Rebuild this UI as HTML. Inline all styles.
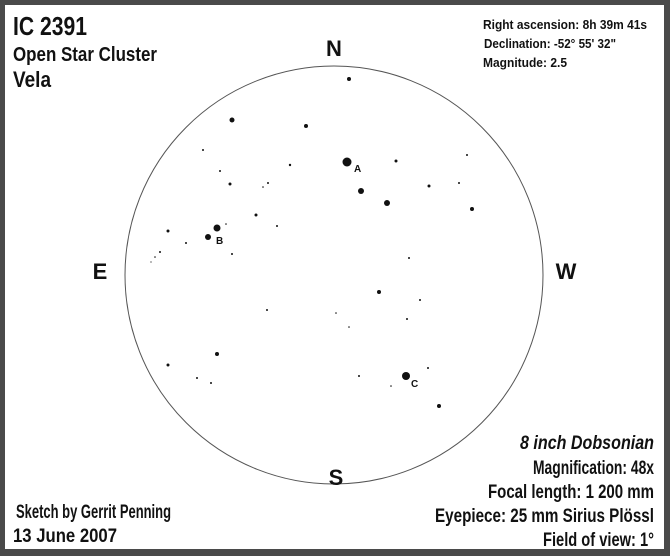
<!DOCTYPE html>
<html><head><meta charset="utf-8"><style>
html,body{margin:0;padding:0;background:#555;}
svg{display:block}
text{font-family:"Liberation Sans Narrow","Liberation Sans",sans-serif;font-weight:bold;fill:#111}
</style></head><body>
<svg width="670" height="556" viewBox="0 0 670 556" xmlns="http://www.w3.org/2000/svg">
<rect x="0" y="0" width="670" height="556" fill="#4a4a4a"/>
<rect x="5" y="5" width="659" height="544" fill="#fff"/>
<circle cx="334" cy="275" r="209" fill="none" stroke="#555" stroke-width="1"/>
<text x="13" y="35" font-size="26" textLength="74" lengthAdjust="spacingAndGlyphs">IC 2391</text>
<text x="13" y="61" font-size="20" textLength="144" lengthAdjust="spacingAndGlyphs">Open Star Cluster</text>
<text x="13" y="87" font-size="22" textLength="38" lengthAdjust="spacingAndGlyphs">Vela</text>
<text x="483" y="29" font-size="13" textLength="164" lengthAdjust="spacingAndGlyphs">Right ascension: 8h 39m 41s</text>
<text x="484" y="48" font-size="13" textLength="132" lengthAdjust="spacingAndGlyphs">Declination: -52° 55' 32"</text>
<text x="483" y="67" font-size="13" textLength="84" lengthAdjust="spacingAndGlyphs">Magnitude: 2.5</text>
<text x="334" y="56" font-size="22" text-anchor="middle">N</text>
<text x="100" y="279" font-size="22" text-anchor="middle">E</text>
<text x="566" y="279" font-size="22" text-anchor="middle">W</text>
<text x="336" y="485" font-size="22" text-anchor="middle">S</text>
<text x="16" y="518" font-size="19" textLength="155" lengthAdjust="spacingAndGlyphs">Sketch by Gerrit Penning</text>
<text x="13" y="542" font-size="19" textLength="104" lengthAdjust="spacingAndGlyphs">13 June 2007</text>
<text x="654" y="449" font-size="19" text-anchor="end" font-style="italic" textLength="134" lengthAdjust="spacingAndGlyphs">8 inch Dobsonian</text>
<text x="654" y="474" font-size="19" text-anchor="end" textLength="121" lengthAdjust="spacingAndGlyphs">Magnification: 48x</text>
<text x="654" y="498" font-size="19" text-anchor="end" textLength="166" lengthAdjust="spacingAndGlyphs">Focal length: 1 200 mm</text>
<text x="654" y="522" font-size="19" text-anchor="end" textLength="219" lengthAdjust="spacingAndGlyphs">Eyepiece: 25 mm Sirius Plössl</text>
<text x="654" y="546" font-size="19" text-anchor="end" textLength="111" lengthAdjust="spacingAndGlyphs">Field of view: 1°</text>
<g fill="#111">
<circle cx="349" cy="79" r="2"/><circle cx="232" cy="120" r="2.5"/><circle cx="306" cy="126" r="2"/>
<circle cx="347" cy="162" r="4.5"/><circle cx="203" cy="150" r="1"/><circle cx="220" cy="171" r="1"/>
<circle cx="290" cy="165" r="1.2"/><circle cx="396" cy="161" r="1.5"/><circle cx="467" cy="155" r="1"/>
<circle cx="230" cy="184" r="1.5"/><circle cx="268" cy="183" r="1"/><circle cx="263" cy="187" r="0.8"/>
<circle cx="361" cy="191" r="3"/><circle cx="429" cy="186" r="1.5"/><circle cx="459" cy="183" r="1"/>
<circle cx="387" cy="203" r="3"/><circle cx="472" cy="209" r="2"/><circle cx="256" cy="215" r="1.5"/>
<circle cx="277" cy="226" r="1"/><circle cx="226" cy="224" r="0.8"/><circle cx="217" cy="228" r="3.5"/>
<circle cx="208" cy="237" r="3"/><circle cx="168" cy="231" r="1.5"/><circle cx="186" cy="243" r="1"/>
<circle cx="160" cy="252" r="1"/><circle cx="155" cy="257" r="0.8"/><circle cx="151" cy="262" r="0.6"/>
<circle cx="232" cy="254" r="1"/><circle cx="409" cy="258" r="1"/><circle cx="379" cy="292" r="2"/>
<circle cx="420" cy="300" r="1"/><circle cx="267" cy="310" r="1"/><circle cx="336" cy="313" r="0.8"/>
<circle cx="407" cy="319" r="1"/><circle cx="349" cy="327" r="0.8"/><circle cx="217" cy="354" r="2"/>
<circle cx="168" cy="365" r="1.5"/><circle cx="197" cy="378" r="1"/><circle cx="211" cy="383" r="1"/>
<circle cx="428" cy="368" r="1"/><circle cx="406" cy="376" r="4"/><circle cx="359" cy="376" r="1"/>
<circle cx="391" cy="386" r="0.8"/><circle cx="439" cy="406" r="2"/>
</g>
<text x="354" y="172" font-size="10" font-family="Liberation Sans,sans-serif">A</text>
<text x="216" y="244" font-size="10" font-family="Liberation Sans,sans-serif">B</text>
<text x="411" y="387" font-size="10" font-family="Liberation Sans,sans-serif">C</text>
</svg>
</body></html>
